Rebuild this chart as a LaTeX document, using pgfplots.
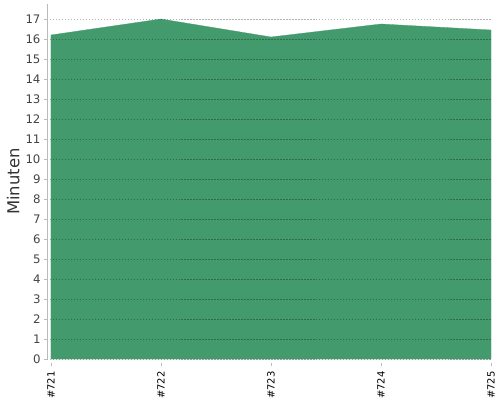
\documentclass[border=0pt]{standalone}
\usepackage{fontspec}
\setmainfont{DejaVu Sans}
\usepackage{pgfplots}
\pgfplotsset{compat=1.18}
\definecolor{areagreen}{HTML}{439B6D}
\definecolor{ticktext}{HTML}{444444}
\definecolor{labeltext}{HTML}{333333}
\definecolor{axisgray}{HTML}{BBBBBB}
\begin{document}
\begin{tikzpicture}
\begin{axis}[
  scale only axis, width=444bp, height=355bp,
  xmin=-0.036, xmax=4, ymin=0, ymax=17.75,
  axis x line*=bottom, axis y line*=left,
  x axis line style={draw=none},
  y axis line style={draw=axisgray, line width=0.8pt},
  xtick={0,...,4},
  xticklabels={\#721,\#722,\#723,\#724,\#725},
  xticklabel style={rotate=90, anchor=east, font=\fontsize{10}{11}\selectfont},
  xticklabel shift=6bp,
  xtick style={draw=axisgray, line width=0.8pt, yshift=-4bp},
  ytick={0,...,17},
  /pgf/number format/assume math mode=true,
  yticklabel style={font=\fontsize{11.8}{12}\selectfont, text=ticktext},
  ytick style={draw=axisgray, line width=0.8pt},
  tick align=outside, major tick length=3bp,
  ymajorgrids,
  major grid style={dash pattern=on 1.5pt off 1.5pt, black, opacity=0.3, line width=0.5pt},
  ylabel={Minuten},
  ylabel style={font=\fontsize{16.5}{17}\selectfont, text=labeltext, yshift=-1bp},
  axis on top,
]
\addplot[fill=areagreen, draw=areagreen, line width=0.3pt] coordinates {
  (0,16.2) (1,17.0) (2,16.1) (3,16.75) (4,16.45)
} \closedcycle;
\draw[axisgray, line width=0.8pt] ([yshift=-4bp]axis cs:0,0) -- ([yshift=-4bp]axis cs:4,0);
\coordinate (sw) at (rel axis cs:0,0);
\coordinate (ne) at (rel axis cs:1,1);
\end{axis}
\path (sw) ++(-47bp,-41bp) rectangle ([shift={(9bp,4bp)}]ne);
\end{tikzpicture}
\end{document}
